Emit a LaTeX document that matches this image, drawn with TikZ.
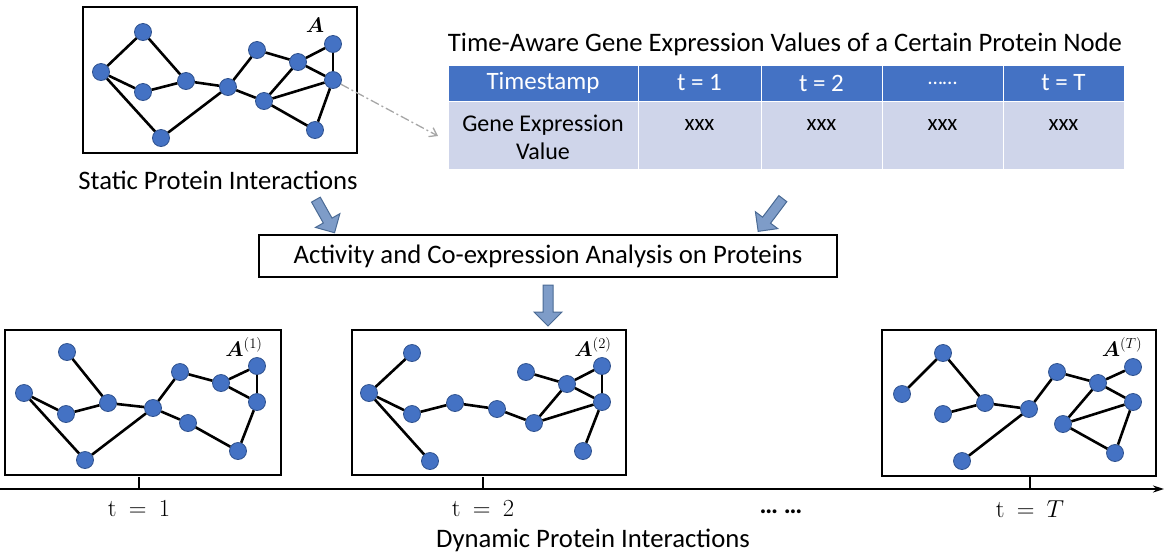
\documentclass[tikz,border=0pt]{standalone}
\usepackage{amsmath}
\usepackage[no-math]{fontspec}
\setmainfont{Carlito}
\usetikzlibrary{shapes.arrows,arrows.meta}
\definecolor{pnode}{HTML}{4472C4}
\definecolor{pdraw}{HTML}{2F528F}
\definecolor{hdrc}{HTML}{4472C4}
\definecolor{cellc}{HTML}{CFD5EA}
\definecolor{arrf}{HTML}{7E9CC8}
\definecolor{arrd}{HTML}{4A6A94}
\definecolor{dashc}{HTML}{A6A6A6}
\begin{document}
\begin{tikzpicture}[x=1pt,y=-1pt,
  prot/.style={circle,fill=pnode,draw=pdraw,line width=0.8pt,minimum size=17pt,inner sep=0pt},
  edge/.style={line width=2.6pt,black},
  frame/.style={draw=black,line width=1.3pt,minimum height=146pt,inner sep=0pt},
  hcell/.style={fill=hdrc,draw=white,line width=1pt,minimum height=36pt,inner sep=0pt},
  bcell/.style={fill=cellc,draw=white,line width=1pt,minimum height=68pt,inner sep=0pt},
  htext/.style={text=white,font=\fontsize{25}{28}\selectfont},
  btext/.style={font=\fontsize{24}{28}\selectfont,align=center},
  xtext/.style={font=\fontsize{23}{26}\selectfont},
  lbl/.style={font=\fontsize{26.7}{30}\selectfont},
  alab/.style={inner sep=0pt,font=\LARGE,scale=1.22,transform shape},
  barrow/.style={single arrow,draw=arrd,fill=arrf,line width=1pt,minimum width=0pt,
    single arrow head extend=9pt,inner sep=4.5pt,single arrow head indent=0pt},
  tlab/.style={inner sep=0pt,font=\LARGE,scale=1.42,transform shape}]
\useasboundingbox (0,0) rectangle (1168,558);

% ---------- static graph ----------
\node[frame,minimum width=274pt] (g0) at (220,80) {};
\foreach \n/\x/\y in {1/143/32,2/101/72,3/143/92,4/186/81,5/161/138,6/228/87,7/257/50,8/264/101,9/298/62,10/333/44,11/333/80,12/315/130}
  \node[prot] (s\n) at (\x,\y) {};
\foreach \a/\b in {2/1,1/4,2/3,3/4,2/5,5/6,4/6,6/7,6/8,7/9,9/10,10/11,9/11,9/8,8/11,8/12,12/11}
  \draw[edge] (s\a) -- (s\b);
\node[alab] (la0) at (315,25) {$\boldsymbol{A}$};
\node[lbl] (st) at (218,180) {Static Protein Interactions};

% ---------- table ----------
\node[lbl] (title) at (785,44) {Time-Aware Gene Expression Values of a Certain Protein Node};
\node[hcell,minimum width=190pt] (h0) at (543,83) {};
\node[hcell,minimum width=123pt] (h1) at (699.5,83) {};
\node[hcell,minimum width=121pt] (h2) at (821.5,83) {};
\node[hcell,minimum width=121pt] (h3) at (942.5,83) {};
\node[hcell,minimum width=121pt] (h4) at (1063.5,83) {};
\node[bcell,minimum width=190pt] (b0) at (543,135) {};
\node[bcell,minimum width=123pt] (b1) at (699.5,135) {};
\node[bcell,minimum width=121pt] (b2) at (821.5,135) {};
\node[bcell,minimum width=121pt] (b3) at (942.5,135) {};
\node[bcell,minimum width=121pt] (b4) at (1063.5,135) {};
\node[htext] (ht0) at (h0) {Timestamp};
\node[htext] (ht1) at (h1) {t = 1};
\node[htext] (ht2) at (h2) {t = 2};
\node[htext,font=\fontsize{21}{22}\selectfont] (ht3) at (h3) {\ldots\ldots};
\node[htext] (ht4) at (h4) {t = T};
\node[btext] (bt0) at (543,137) {Gene Expression\\Value};
\node[xtext] (bt1) at (699.5,125) {xxx};
\node[xtext] (bt2) at (821.5,125) {xxx};
\node[xtext] (bt3) at (942.5,125) {xxx};
\node[xtext] (bt4) at (1063.5,125) {xxx};

\coordinate (dend) at (438,136);
\draw[dashc,line width=1.3pt,dash pattern=on 9pt off 3pt on 2pt off 3pt,-{Straight Barb[length=7pt,width=10pt]}] (s11) -- (dend);

% ---------- analysis box and block arrows ----------
\node[draw=black,line width=1.3pt,minimum width=578pt,minimum height=42pt,inner sep=0pt,lbl] (ana) at (548,256) {Activity and Co-expression Analysis on Proteins};
\node[barrow,minimum height=38pt,rotate=-60.6] (ar1) at (324,214) {};
\node[barrow,minimum height=41pt,rotate=-127] (ar2) at (772,213) {};
\node[barrow,minimum height=41pt,rotate=-90] (ar3) at (548,303) {};

% ---------- dynamic graph 1 ----------
\node[frame,minimum width=276pt,minimum height=145pt] (g1) at (143,402.5) {};
\foreach \n/\x/\y in {1/67/352,2/24/393,3/66/414,4/108/403,5/85/460,6/153/408,7/180/372,8/188/423,9/221/383,10/257/366,11/257/402,12/238/451}
  \node[prot] (a\n) at (\x,\y) {};
\foreach \a/\b in {1/4,2/3,3/4,2/5,5/6,4/6,6/7,6/8,7/9,9/10,10/11,9/11,8/12,12/11}
  \draw[edge] (a\a) -- (a\b);
\node[alab] (la1) at (244,347) {$\boldsymbol{A}^{(1)}$};

% ---------- dynamic graph 2 ----------
\node[frame,minimum width=274pt,minimum height=145pt] (g2) at (489,402.5) {};
\foreach \n/\x/\y in {1/412/353,2/369/393,3/412/414,4/455/403,5/430/461,6/497/409,7/526/372,8/534/423,9/567/384,10/602/366,11/602/402,12/583/451}
  \node[prot] (b\n) at (\x,\y) {};
\foreach \a/\b in {1/2,2/3,2/5,3/4,4/6,6/8,7/9,9/10,10/11,9/11,8/9,8/11,11/12}
  \draw[edge] (b\a) -- (b\b);
\node[alab] (la2) at (593,347) {$\boldsymbol{A}^{(2)}$};

% ---------- dynamic graph T ----------
\node[frame,minimum width=274pt,minimum height=146pt] (g3) at (1019,403) {};
\foreach \n/\x/\y in {1/902/394,2/943/353,3/943/414,4/985/403,5/962/461,6/1029/409,7/1057/372,8/1063/424,9/1098/383,10/1133/367,11/1133/402,12/1115/453}
  \node[prot] (c\n) at (\x,\y) {};
\foreach \a/\b in {1/2,2/4,3/4,4/6,5/6,6/7,7/9,9/10,9/11,9/8,8/11,8/12,12/11}
  \draw[edge] (c\a) -- (c\b);
\node[alab] (la3) at (1122,347) {$\boldsymbol{A}^{(T)}$};

% ---------- timeline ----------
\coordinate (tl0) at (0,489);
\coordinate (tl1) at (1164,489);
\draw[line width=2pt,-{Stealth[length=11pt,width=7pt]}] (tl0) -- (tl1);
\foreach \x/\nm in {139/k1,483/k2,1030/k3}{
  \coordinate (\nm a) at (\x,477);
  \coordinate (\nm b) at (\x,489);
  \draw[line width=1.3pt] (\nm a) -- (\nm b);
}
\node[tlab] (t1) at (139,509) {$\mathrm{t}\:=\:1$};
\node[tlab] (t2) at (483,509) {$\mathrm{t}\:=\:2$};
\node[tlab] (t3) at (1030,509) {$\mathrm{t}\:=\:T$};
\node[font=\fontsize{26}{28}\selectfont] (tdots) at (781,512) {\textbf{\ldots\ \ldots}};
\node[lbl] (dyn) at (593,540) {Dynamic Protein Interactions};
\end{tikzpicture}
\end{document}
